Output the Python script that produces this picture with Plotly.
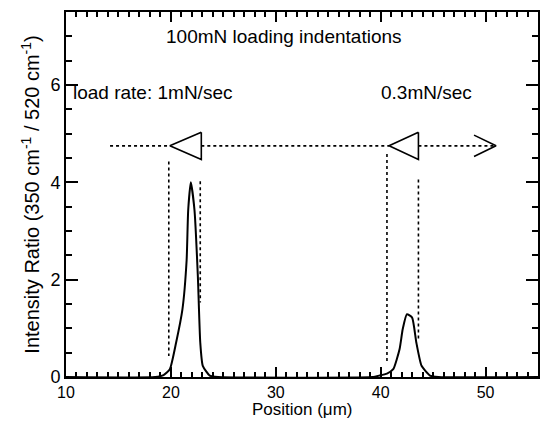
import plotly.graph_objects as go

# Raman intensity ratio profile across two indentation rows
position_um = [10, 18.5, 19.3, 19.9, 20.5, 21.1, 21.5, 21.65, 21.9, 22.25, 22.57, 22.8,
               23.04, 23.7, 24.5, 39.2, 39.9, 40.6, 41.2, 41.8, 42.1, 42.5, 43.0,
               43.4, 43.9, 44.7, 45.5, 55]
intensity_ratio = [0, 0, 0.04, 0.16, 0.71, 1.39, 2.4, 3.43, 4.0, 3.43, 2.07, 0.71,
                   0.23, 0.03, 0, 0, 0.03, 0.07, 0.16, 0.57, 0.98, 1.29, 1.22,
                   0.71, 0.23, 0.03, 0, 0]

# Indent marker positions (triangle tip / base) and guide lines
marker_y = 4.75
marker_half = 0.28
indents = [(19.9, 22.9), (40.8, 43.6)]
scan_segments = [(14.2, 19.9), (22.9, 40.8), (43.6, 51.0)]
chevron = (48.9, 51.0)
guides = [(19.8, 4.43, 0.43), (22.8, 4.02, 1.53), (40.6, 4.58, 0.31), (43.6, 4.06, 0.78)]

FONT = "Liberation Sans, Arial, Helvetica, sans-serif"

fig = go.Figure()

# dotted horizontal scan line
for x0, x1 in scan_segments:
    fig.add_trace(go.Scatter(x=[x0, x1], y=[marker_y, marker_y], mode="lines",
                             line=dict(color="black", width=1.6, dash="dot"),
                             hoverinfo="skip", showlegend=False))

# dotted vertical guides
for gx, y_top, y_bot in guides:
    fig.add_trace(go.Scatter(x=[gx, gx], y=[y_top, y_bot], mode="lines",
                             line=dict(color="black", width=1.6, dash="dot"),
                             hoverinfo="skip", showlegend=False))

# open left-pointing triangles
for tip, base in indents:
    fig.add_trace(go.Scatter(
        x=[base, tip, base, base],
        y=[marker_y + marker_half, marker_y, marker_y - marker_half, marker_y + marker_half],
        mode="lines", line=dict(color="black", width=1.6),
        hoverinfo="skip", showlegend=False))

# scan direction chevron
fig.add_trace(go.Scatter(
    x=[chevron[0], chevron[1], chevron[0]],
    y=[marker_y + 0.22, marker_y, marker_y - 0.22],
    mode="lines", line=dict(color="black", width=1.6),
    hoverinfo="skip", showlegend=False))

# intensity profile
fig.add_trace(go.Scatter(x=position_um, y=intensity_ratio, mode="lines",
                         line=dict(color="black", width=2, shape="spline", smoothing=0.5),
                         showlegend=False))

axis_common = dict(showgrid=False, zeroline=False, showline=True, linecolor="black",
                   linewidth=2, mirror="ticks", ticks="inside", tickcolor="black",
                   tickwidth=1.5)

fig.update_xaxes(range=[10, 55], tickvals=[10, 20, 30, 40, 50], ticklen=10,
                 tickfont=dict(family=FONT, size=16, color="black"),
                 minor=dict(dtick=1, ticks="inside", ticklen=5, tickcolor="black", tickwidth=1.5),
                 **axis_common)
fig.update_yaxes(range=[0, 7.5], tickvals=[0, 2, 4, 6], ticklen=12,
                 tickfont=dict(family=FONT, size=18, color="black"),
                 minor=dict(dtick=0.5, ticks="inside", ticklen=6, tickcolor="black", tickwidth=1.5),
                 **axis_common)

text_font = dict(family=FONT, size=19, color="black")
fig.add_annotation(x=30.8, y=7.0, text="100mN loading indentations", showarrow=False,
                   font=text_font, xanchor="center", yanchor="middle")
fig.add_annotation(x=10.5, y=5.84, text="load rate: 1mN/sec", showarrow=False,
                   font=text_font, xanchor="left", yanchor="middle")
fig.add_annotation(x=44.4, y=5.84, text="0.3mN/sec", showarrow=False,
                   font=text_font, xanchor="center", yanchor="middle")

# axis titles
fig.add_annotation(xref="paper", yref="paper", x=0.5, y=-0.119, text="Position (μm)",
                   showarrow=False, font=dict(family=FONT, size=17, color="black"),
                   xanchor="center", yanchor="bottom", borderpad=0)
fig.add_annotation(xref="paper", yref="paper", x=-0.076, y=0.5,
                   text="Intensity Ratio (350 cm<sup>-1</sup> / 520 cm<sup>-1</sup>)",
                   textangle=-90, showarrow=False,
                   font=dict(family=FONT, size=20, color="black"),
                   xanchor="center", yanchor="middle")

fig.update_layout(width=542, height=422, margin=dict(l=66, r=2, t=12, b=45),
                  plot_bgcolor="white", paper_bgcolor="white")

fig.write_html("out.html")
